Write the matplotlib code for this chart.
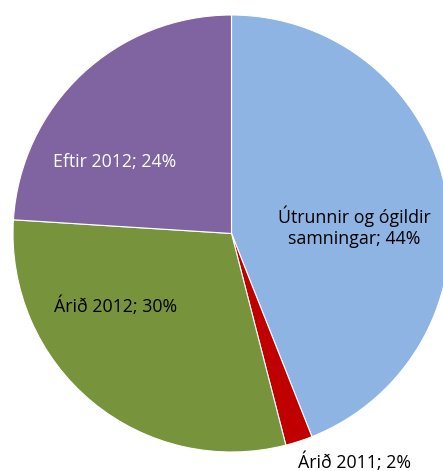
import matplotlib.pyplot as plt

# Data
labels = ['Útrunnir og ógildir\nsamningar', 'Árið 2011', 'Árið 2012', 'Eftir 2012']
shares = [44, 2, 30, 24]
colors = ['#8EB4E3', '#C00000', '#77933C', '#8064A2']

plt.rcParams['font.family'] = ['Open Sans', 'DejaVu Sans']

fig = plt.figure(figsize=(4.43, 4.71), dpi=100)
ax = fig.add_axes([0, 0, 1, 1])

# Pie in pixel-like data coordinates (y upward)
ax.pie(shares, colors=colors, startangle=90, counterclock=False,
       center=(231.5, 237.5), radius=218.5,
       wedgeprops=dict(edgecolor='white', linewidth=0.8))

ax.set_xlim(0, 443)
ax.set_ylim(0, 471)
ax.set_aspect('equal')
ax.axis('off')

# Data labels (name; percent)
label_pos = [(354, 244), (355, 9), (116, 165), (115, 309)]
label_col = ['black', 'black', 'black', 'white']
for lab, val, (x, y), c in zip(labels, shares, label_pos, label_col):
    ax.text(x, y, f'{lab}; {val}%', ha='center', va='center',
            fontsize=12.8, color=c, linespacing=1.2)

fig.savefig('out.png', dpi=100)
